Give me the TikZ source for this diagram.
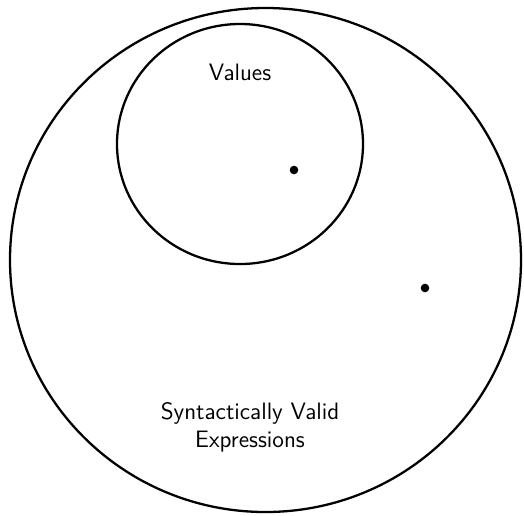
\documentclass[tikz,border=0pt]{standalone}
\usepackage{tikz}
\usetikzlibrary{positioning}

\begin{document}
\begin{tikzpicture}[x=0.02cm, y=-0.02cm, every node/.style={font=\sffamily\fontsize{13.5}{16}\selectfont, align=center}]
\useasboundingbox (0,0) rectangle (524,515);
\draw[line width=1.3pt] (265.5,260) ellipse [x radius=255.5, y radius=252];
\draw[line width=1.3pt] (240,144) ellipse [x radius=123, y radius=120];
\fill (294,170) circle [radius=4.3];
\fill (425,288) circle [radius=4.3];
\node (values) at (240,72) {Values};
\node (exprs) at (250,427) {Syntactically Valid\\Expressions};
\end{tikzpicture}
\end{document}
